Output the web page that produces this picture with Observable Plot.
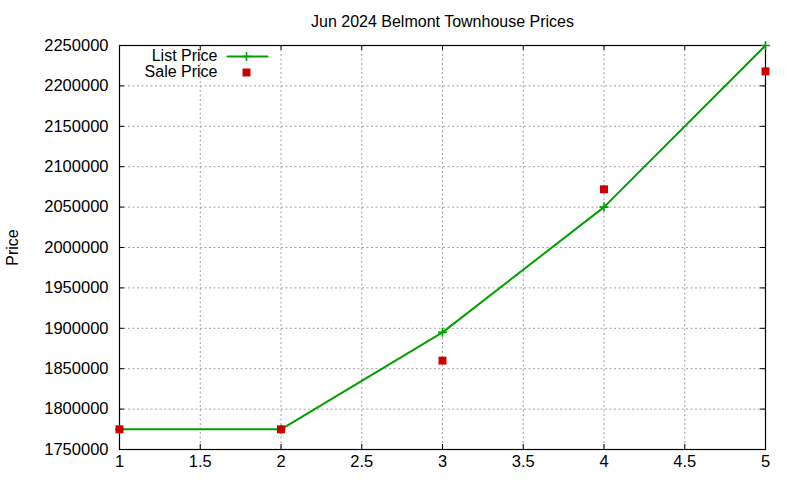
<!DOCTYPE html>
<html><head><meta charset="utf-8">
<script src="https://cdn.jsdelivr.net/npm/d3@7"></script>
<script src="https://cdn.jsdelivr.net/npm/@observablehq/plot@0.6"></script>
<style>
body{margin:0;background:#fff}
#chart svg{font-family:"Liberation Sans",Arial,sans-serif;display:block}
</style>
</head><body><div id="chart"></div>
<script>
const xValues = [1, 2, 3, 4, 5];
const listPrice = [1775000, 1775000, 1895000, 2050000, 2250000];
const salePrice = [1775000, 1775000, 1860000, 2072000, 2218000];
const xTicks = [1, 1.5, 2, 2.5, 3, 3.5, 4, 4.5, 5];
const yTicks = [1750000, 1800000, 1850000, 1900000, 1950000, 2000000, 2050000, 2100000, 2150000, 2200000, 2250000];
const title = "Jun 2024 Belmont Townhouse Prices";
const yLabel = "Price";
const seriesNames = ["List Price", "Sale Price"];

const green = "#00a000", red = "#cc0000";
const W = 800, H = 480, mL = 119, mR = 35, mT = 45, mB = 31;
const fw = W - mL - mR, fh = H - mT - mB, tk = 5;
const fs = 16;

const listData = xValues.map((x, i) => ({x, y: listPrice[i]}));
const saleData = xValues.map((x, i) => ({x, y: salePrice[i]}));
const hline = {draw(ctx, l) { ctx.moveTo(0, 0); ctx.lineTo(0, -l); }};

const chart = Plot.plot({
  width: W, height: H,
  marginLeft: mL, marginRight: mR, marginTop: mT, marginBottom: mB,
  style: {fontSize: fs + "px", fontFamily: "'Liberation Sans', Arial, sans-serif", color: "black"},
  x: {domain: [1, 5]},
  y: {domain: [1750000, 2250000]},
  marks: [
    Plot.gridX(xTicks, {stroke: "#a0a0a0", strokeOpacity: 1, strokeDasharray: "2,2.5"}),
    Plot.gridY(yTicks, {stroke: "#a0a0a0", strokeOpacity: 1, strokeDasharray: "2,2.5"}),
    Plot.axisX(xTicks, {tickSize: 0, tickPadding: 6, tickFormat: d => String(d), label: null, fontSize: 16.5}),
    Plot.axisY(yTicks, {tickSize: 0, tickPadding: 11, tickFormat: d => String(d), label: null, fontSize: 16.5}),
    Plot.tickX(xTicks, {x: d => d, insetTop: fh - tk, stroke: "black"}),
    Plot.tickX(xTicks, {x: d => d, insetBottom: fh - tk, stroke: "black"}),
    Plot.tickY(yTicks, {y: d => d, insetRight: fw - tk, stroke: "black"}),
    Plot.tickY(yTicks, {y: d => d, insetLeft: fw - tk, stroke: "black"}),
    Plot.frame({stroke: "black", strokeWidth: 1.2}),
    Plot.line(listData, {x: "x", y: "y", stroke: green, strokeWidth: 2}),
    Plot.dot(listData, {x: "x", y: "y", symbol: "plus", stroke: green, strokeWidth: 1.6, r: 3}),
    Plot.dot(saleData, {x: "x", y: "y", symbol: "square", fill: red, stroke: null, r: 4.5}),
    // title and y label
    Plot.text([title], {frameAnchor: "top", lineAnchor: "middle", dy: -24, text: d => d, fontSize: fs, fill: "black"}),
    Plot.text([yLabel], {frameAnchor: "left", textAnchor: "middle", lineAnchor: "middle", dx: -107, rotate: -90, text: d => d, fontSize: fs, fill: "black"}),
    // legend
    Plot.text([seriesNames[0]], {frameAnchor: "top-left", lineAnchor: "middle", dx: 98, dy: 10, textAnchor: "end", text: d => d, fontSize: fs, fill: "black"}),
    Plot.text([seriesNames[1]], {frameAnchor: "top-left", lineAnchor: "middle", dx: 98, dy: 26, textAnchor: "end", text: d => d, fontSize: fs, fill: "black"}),
    Plot.vector([seriesNames[0]], {frameAnchor: "top-left", dx: 108, dy: 11, rotate: 90, length: 40, anchor: "start", shape: hline, stroke: green, strokeWidth: 2}),
    Plot.dot([seriesNames[0]], {frameAnchor: "top-left", dx: 127, dy: 11, symbol: "plus", stroke: green, strokeWidth: 1.6, r: 3}),
    Plot.dot([seriesNames[1]], {frameAnchor: "top-left", dx: 127, dy: 27, symbol: "square", fill: red, stroke: null, r: 4.5})
  ]
});
document.getElementById("chart").append(chart);
</script>
</body></html>
